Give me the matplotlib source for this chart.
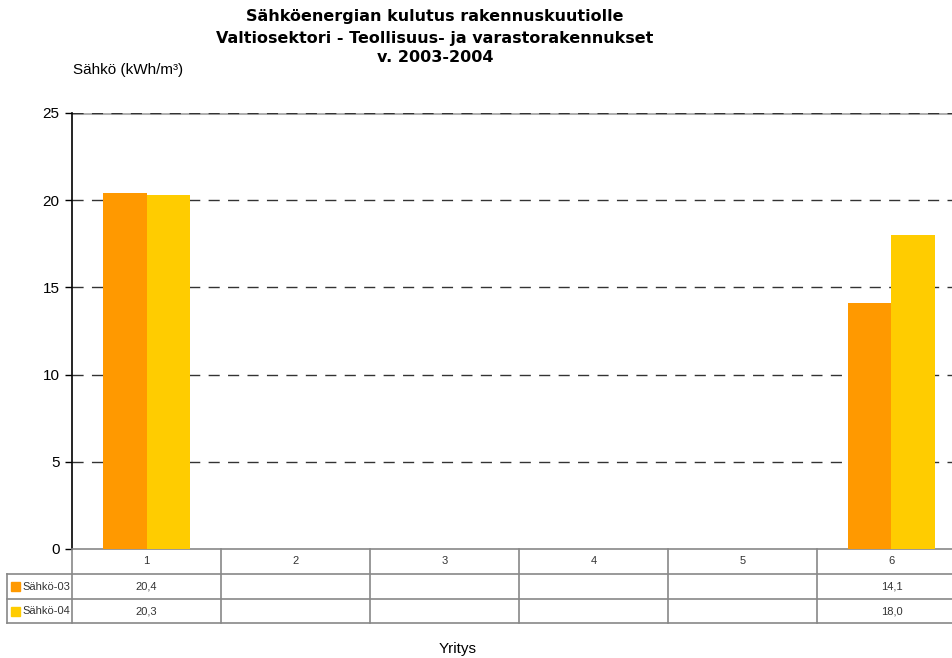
import matplotlib
matplotlib.use("Agg")
import matplotlib.pyplot as plt
import numpy as np

categories = ["1", "2", "3", "4", "5", "6"]
series_names = ["Sähkö-03", "Sähkö-04"]
sahko_03 = [20.4, None, None, None, None, 14.1]
sahko_04 = [20.3, None, None, None, None, 18.0]
colors = ["#FF9900", "#FFCC00"]
yticks = [0, 5, 10, 15, 20, 25]

fam = ["Liberation Sans", "DejaVu Sans"]
tfs = 8.0

W, H = 953, 658
fig = plt.figure(figsize=(W / 100, H / 100), dpi=100)
ax_l, ax_r, ax_t, ax_b = 72, 966, 113, 549
ax = fig.add_axes([ax_l / W, 1 - ax_b / H, (ax_r - ax_l) / W, (ax_b - ax_t) / H])

x = np.arange(len(categories))
bw = 0.29
for i, (vals, c) in enumerate(zip([sahko_03, sahko_04], colors)):
    xs = [xi for xi, v in zip(x, vals) if v is not None]
    vs = [v for v in vals if v is not None]
    ax.bar(np.array(xs) + (i - 0.5) * bw, vs, width=bw, color=c, zorder=3)

ax.set_xlim(-0.5, len(categories) - 0.5)
ax.set_ylim(0, 25)
ax.set_yticks(yticks)
ax.set_yticklabels([str(t) for t in yticks], fontsize=11, family=fam)
ax.set_xticks([])
for s in ["top", "right"]:
    ax.spines[s].set_visible(False)
ax.spines["left"].set_color("black")
ax.spines["left"].set_linewidth(1.2)
ax.spines["bottom"].set_color("#888888")
ax.spines["bottom"].set_linewidth(1.2)
ax.tick_params(axis="y", direction="out", length=5, width=1, pad=4)

for t in yticks[1:]:
    if t == 25:
        ax.axhline(t, color="#b0b0b0", lw=2.2, zorder=1)
    ax.axhline(t, color="#333333", lw=1, ls=(0, (8, 6)), zorder=2)

ph = ax_b - ax_t
def ay(px):
    return -(px - ax_b) / ph

gc = "#888888"
rows_px = [549, 574, 599, 623]
for yp in rows_px[1:]:
    fig.add_artist(plt.Line2D([7 / W, 1], [1 - yp / H] * 2, color=gc, lw=1.2))
fig.add_artist(plt.Line2D([7 / W] * 2, [1 - 574 / H, 1 - 623 / H], color=gc, lw=1.2))
for k in range(len(categories) + 1):
    xb = k - 0.5
    ax.plot([xb, xb], [0, ay(623)], transform=ax.get_xaxis_transform(),
            color=gc, lw=1.2, clip_on=False)

tc = "#333333"
for xi, c in zip(x, categories):
    ax.text(xi, ay(561.5), c, transform=ax.get_xaxis_transform(),
            ha="center", va="center", fontsize=tfs, family=fam, color=tc)

fmt = lambda v: ("%.1f" % v).replace(".", ",")
for r, vals in enumerate([sahko_03, sahko_04]):
    ymid = (rows_px[r + 1] + rows_px[r + 2]) / 2
    for xi, v in zip(x, vals):
        if v is not None:
            ax.text(xi, ay(ymid), fmt(v), transform=ax.get_xaxis_transform(),
                    ha="center", va="center", fontsize=tfs, family=fam, color=tc)
    ycf = 1 - ymid / H
    fig.add_artist(plt.Rectangle((11 / W, ycf - 4.5 / H), 9 / W, 9 / H,
                                 color=colors[r], transform=fig.transFigure))
    fig.text(22 / W, ycf, series_names[r], ha="left", va="center",
             fontsize=tfs, family=fam, color=tc)

tfam = ["DejaVu Sans"]
for txt, yp in [("Sähköenergian kulutus rakennuskuutiolle", 17),
                ("Valtiosektori - Teollisuus- ja varastorakennukset", 38),
                ("v. 2003-2004", 58)]:
    fig.text(435 / W, 1 - yp / H, txt, ha="center", va="center",
             fontsize=11.5, weight="bold", family=tfam)
fig.text(73 / W, 1 - 70 / H, "Sähkö (kWh/m³)", ha="left", va="center",
         fontsize=11, family=fam)
fig.text(458 / W, 1 - 649 / H, "Yritys", ha="center", va="center",
         fontsize=11, family=fam)

fig.savefig("out.png", dpi=100)
